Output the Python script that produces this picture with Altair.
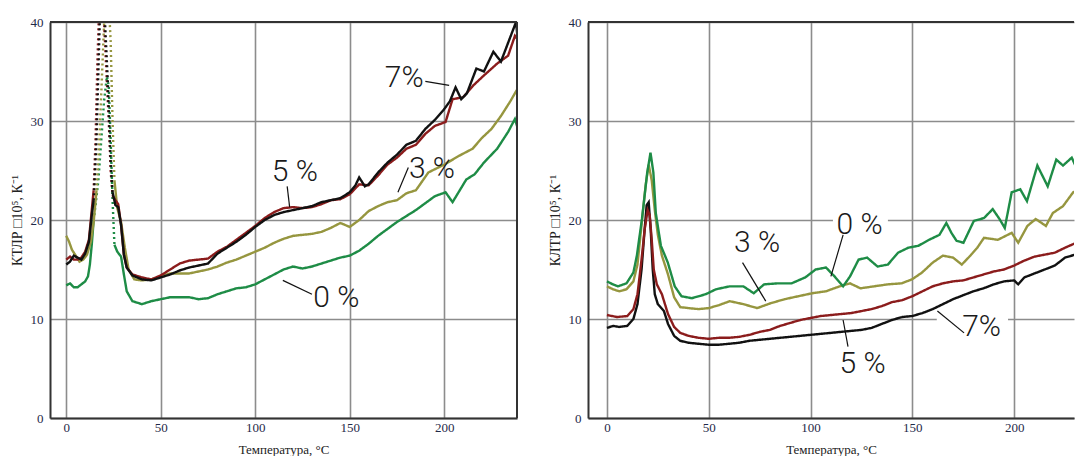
import altair as alt
import pandas as pd

# ---------------- data ----------------
SERIES = ["0 %", "3 %", "5 %", "7%"]
COLORS = {"0 %": "#1e8c46", "3 %": "#96963f", "5 %": "#8b1c1c", "7%": "#111111"}

# Left panel
L0_T = [0, 2, 4, 6, 8, 10, 11.5, 12.5, 13.5, 14.5, 15.5, 17, 18.5, 20, 21.5, 22.5, 23.5, 24.5, 25.5, 27, 29, 30.5, 32, 35, 40, 45, 50, 55, 60, 65, 70, 75, 80, 85, 90, 95, 100, 105, 110, 115, 120, 125, 130, 135, 140, 145, 150, 155, 160, 165, 170, 175, 180, 185, 190, 195, 200.7, 204.4, 211.7, 216, 221, 228, 233.8, 237.4, 239]
L0_V = [13.4, 13.6, 13.2, 13.2, 13.5, 13.8, 14.3, 15.5, 17.5, 20, 21.5, 24, 28, 32, 34.5, 33.5, 28, 22, 17.5, 16.8, 16.3, 14.5, 12.8, 11.8, 11.5, 11.8, 12.0, 12.2, 12.2, 12.2, 12.0, 12.1, 12.5, 12.8, 13.1, 13.2, 13.5, 14.0, 14.5, 15.0, 15.3, 15.1, 15.3, 15.6, 15.9, 16.2, 16.4, 16.9, 17.6, 18.4, 19.1, 19.8, 20.4, 21.0, 21.7, 22.4, 22.8, 21.8, 24.1, 24.6, 25.8, 27.2, 28.9, 30.2, 29.2]

L3_T = [0, 1.5, 3, 5, 7, 9, 11, 13, 14.5, 16, 17.5, 19, 20.5, 22.5, 23.5, 24.5, 25.5, 27, 29, 31, 33, 36, 40, 45, 50, 55, 60, 65, 70, 75, 80, 85, 90, 95, 100, 105, 110, 115, 120, 125, 130, 135, 140, 145, 150, 155, 160, 165, 170, 175, 180, 185, 191.6, 200, 208, 215, 220, 225, 230, 235, 238, 239]
L3_V = [18.4, 17.8, 17.0, 16.4, 15.8, 16.0, 16.5, 17.8, 19.8, 23, 28, 35, 42, 42, 38, 30, 24, 21.2, 19.8, 17.2, 15.0, 14.0, 13.9, 14.0, 14.3, 14.6, 14.6, 14.6, 14.8, 15.0, 15.3, 15.7, 16.0, 16.4, 16.8, 17.2, 17.7, 18.1, 18.4, 18.5, 18.6, 18.8, 19.2, 19.7, 19.3, 20.0, 20.9, 21.4, 21.8, 22.0, 22.7, 23.0, 24.8, 25.6, 26.5, 27.2, 28.3, 29.2, 30.5, 32.0, 33.0, 33.3]

L5_T = [0, 2, 4, 6, 8, 10, 12, 13.5, 14.5, 15.5, 16.5, 17.5, 19.5, 21, 22.5, 23.5, 24.5, 26, 27.5, 29, 30.5, 32, 35, 40, 45, 50, 55, 60, 65, 70, 75, 80, 85, 90, 95, 100, 105, 110, 115, 120, 125, 130, 135, 140, 145, 150, 155, 160, 165, 170, 175, 180, 185, 190, 195, 200.7, 204.4, 210, 215.4, 221, 228, 233.8, 237.4, 239]
L5_V = [16.0, 16.3, 16.0, 16.0, 16.2, 16.8, 18.0, 21, 23, 28, 36, 42, 42, 36, 30, 25, 22.5, 22, 21.6, 19.5, 16.5, 15.2, 14.5, 14.2, 14.0, 14.4, 15.0, 15.6, 15.9, 16.0, 16.1, 16.8, 17.3, 18.0, 18.7, 19.4, 20.2, 20.8, 21.2, 21.3, 21.2, 21.3, 21.6, 22.0, 22.1, 22.6, 23.6, 23.5, 24.5, 25.6, 26.3, 27.2, 27.6, 28.7, 29.5, 29.9, 32.2, 32.4, 33.6, 34.6, 35.8, 36.6, 38.6, 38.2]

L7_T = [0, 2, 4, 6, 8, 10, 12, 13.5, 14.5, 16, 17, 18, 20, 22, 23.5, 24.5, 26, 27.5, 29, 30.5, 32, 35, 40, 45, 50, 55, 60, 65, 70, 75, 80, 85, 90, 95, 100, 105, 110, 115, 120, 125, 130, 135, 140, 145, 150, 153, 155, 158, 160, 165, 170, 175, 180, 185, 190, 195, 200, 203, 206, 209, 212, 217, 221, 226, 230, 233, 236, 238, 239]
L7_V = [15.5, 15.8, 16.4, 16.2, 16.0, 16.6, 17.8, 20.5, 22, 28, 35, 42, 42, 34, 26, 22.8, 21.5, 21.3, 19.5, 16.5, 15.2, 14.4, 14.0, 13.9, 14.2, 14.5, 14.9, 15.2, 15.4, 15.6, 16.6, 17.2, 17.8, 18.5, 19.3, 20.0, 20.5, 20.8, 21.0, 21.2, 21.4, 21.8, 22.0, 22.2, 22.8, 23.5, 24.3, 23.4, 23.6, 24.8, 25.8, 26.6, 27.6, 28.0, 29.2, 30.1, 31.2, 32.0, 33.4, 32.2, 32.8, 35.3, 35.0, 37.0, 36.0, 37.5, 39.0, 40.0, 38.0]

# temperature range drawn dotted (sparse points around the peak)
L_PEAK = {"0 %": (14.5, 25.5), "3 %": (16, 25.5), "5 %": (14.5, 24.5), "7%": (14.5, 24.5)}

# Right panel
R0_T = [0, 2.9, 5.4, 9.6, 13, 14.7, 17.2, 19.8, 21.4, 22.8, 24, 26.5, 29.9, 33.3, 36.6, 41.7, 48.5, 53.5, 60.3, 67, 72.1, 77.2, 83.9, 90.7, 97.4, 102.5, 107.6, 111.8, 116, 119.4, 123.6, 127.8, 132.9, 138, 143, 148, 153, 158.2, 163.3, 166.7, 169.2, 171.7, 175.1, 180.2, 185.2, 189.5, 192.8, 195.4, 198.8, 203, 206.3, 211.4, 216.5, 220.7, 224, 228.3, 231.6]
R0_V = [13.8, 13.5, 13.3, 13.6, 14.7, 16.4, 20.1, 24.8, 26.8, 24.8, 20.7, 17.4, 15.7, 13.3, 12.3, 12.1, 12.5, 13.0, 13.3, 13.3, 12.6, 13.5, 13.6, 13.6, 14.2, 15.0, 15.2, 14.3, 13.3, 14.3, 16.0, 16.2, 15.3, 15.5, 16.7, 17.2, 17.4, 18.0, 18.5, 19.7, 18.7, 17.9, 17.7, 19.9, 20.2, 21.1, 20.1, 19.2, 22.8, 23.1, 21.9, 25.5, 23.4, 26.1, 25.5, 26.3, 24.8]

R3_T = [0, 3, 6, 9.6, 13, 15, 17, 19, 20.5, 22, 23.5, 25, 27, 30, 33, 36, 40, 45, 50, 55, 60.3, 67, 73.8, 80.5, 87.3, 94, 100.8, 107.6, 114.3, 119.4, 124.5, 131.2, 138, 144.7, 149.8, 154.8, 160, 165, 170, 174.3, 178.5, 181.9, 185.2, 192, 198.8, 202, 206.5, 210.6, 215.6, 219, 224, 229, 231.6]
R3_V = [13.3, 13.0, 12.8, 13.0, 13.8, 15.5, 19.5, 23.5, 25.6, 24, 21, 18.5, 16.4, 14.5, 12.2, 11.2, 11.1, 11.0, 11.1, 11.4, 11.8, 11.5, 11.1, 11.6, 12.0, 12.3, 12.6, 12.8, 13.3, 13.6, 13.1, 13.3, 13.5, 13.6, 14.0, 14.7, 15.7, 16.4, 16.2, 15.5, 16.4, 17.2, 18.2, 18.0, 18.7, 17.7, 19.4, 20.1, 19.4, 20.7, 21.4, 22.8, 23.0]

R5_T = [0, 5, 10, 13, 15, 17, 18.5, 20, 21, 22, 23, 24.5, 27, 30, 33, 36, 40, 45, 50, 55, 60, 65, 70, 75, 80, 85, 90, 95, 100, 105, 110, 115, 120, 125, 130, 135, 140, 145, 150, 155, 160, 165, 170, 175, 180, 185, 190, 195, 200, 205, 210, 215, 220, 225, 231.6]
R5_V = [10.4, 10.2, 10.3, 11.0, 12.5, 16, 19, 21, 20.5, 18, 15, 13.5, 12.5, 10.5, 9.2, 8.6, 8.3, 8.1, 8.0, 8.1, 8.1, 8.2, 8.4, 8.7, 8.9, 9.3, 9.6, 9.9, 10.1, 10.3, 10.4, 10.5, 10.6, 10.8, 11.0, 11.3, 11.7, 11.9, 12.3, 12.8, 13.3, 13.6, 13.8, 13.9, 14.2, 14.5, 14.8, 15.0, 15.4, 15.9, 16.3, 16.5, 16.7, 17.2, 17.8]

R7_T = [0, 3, 6, 10, 13, 15, 17, 18.5, 19.5, 20.5, 21.5, 22.5, 23.5, 25, 28, 30, 33, 36, 40, 45, 50, 55, 60, 65, 70, 75, 80, 85, 90, 95, 100, 105, 110, 115, 120, 125, 130, 135, 140, 145, 150, 155, 160, 165, 170, 175, 180, 185, 190, 195, 200, 202, 205, 210, 215, 220, 225, 231.6]
R7_V = [9.1, 9.3, 9.2, 9.3, 10.0, 11.5, 15, 19, 21.5, 21.8, 19, 15, 12.5, 11.5, 10.8, 9.5, 8.3, 7.8, 7.6, 7.5, 7.4, 7.4, 7.5, 7.6, 7.8, 7.9, 8.0, 8.1, 8.2, 8.3, 8.4, 8.5, 8.6, 8.7, 8.8, 8.9, 9.1, 9.5, 9.9, 10.2, 10.3, 10.6, 11.0, 11.5, 12.0, 12.4, 12.8, 13.1, 13.5, 13.8, 13.9, 13.5, 14.2, 14.6, 15.0, 15.4, 16.2, 16.6]

# Curve labels: text, temperature, value; leader line ends
L_LABELS = ["7%", "5 %", "3 %", "0 %"]
L_LABEL_T = [178.8, 120.9, 193.5, 142.9]
L_LABEL_V = [34.3, 24.8, 25.2, 12.1]
L_LEAD_T1 = [190, 116.9, 181, 130]
L_LEAD_V1 = [34.0, 23.4, 25.3, 12.5]
L_LEAD_T2 = [202.6, 118.2, 175.5, 114.6]
L_LEAD_V2 = [33.6, 21.3, 22.8, 13.9]

R_LABELS = ["0 %", "3 %", "5 %", "7%"]
R_LABEL_T = [124.1, 73.7, 125.6, 184]
R_LABEL_V = [19.5, 17.7, 5.5, 9.2]
R_LEAD_T1 = [116, 66.6, 118.4, 175.4]
R_LEAD_V1 = [18.5, 15.7, 7.2, 8.6]
R_LEAD_T2 = [110, 78, 116, 162.3]
R_LEAD_V2 = [14.3, 11.8, 9.9, 10.8]

X_TICKS = [0, 50, 100, 150, 200]
Y_TICKS = [0, 10, 20, 30, 40]

# ---------------- styling ----------------
H = 396
LW, RW = 467, 486
L_XDOM = [-8.6, 238.5]
R_XDOM = [-9.3, 229.4]
SERIF = "Liberation Serif"
NARROW = "Roboto, Liberation Sans Narrow, DejaVu Sans Condensed, sans-serif"
FRAME = "#333333"
GRID = "#8c8c8c"


def series_df(t, v, peak):
    rows = []
    for ti, vi in zip(t, v):
        if peak is None:
            rows.append((ti, vi, "a", "solid"))
            continue
        a, b = peak
        if ti <= a:
            rows.append((ti, vi, "a", "solid"))
        if a <= ti <= b:
            rows.append((ti, vi, "p", "dot"))
        if ti >= b:
            rows.append((ti, vi, "b", "solid"))
    return pd.DataFrame(rows, columns=["T", "V", "seg", "style"])


def panel(series, peaks, labels, width, xdom, ytitle, blanks):
    xs = alt.Scale(domain=xdom, nice=False, zero=False)
    ys = alt.Scale(domain=[0, 40], nice=False)
    xaxis = alt.Axis(values=X_TICKS, title="Температура, °С", grid=True, gridColor=GRID,
                     gridWidth=1.6, ticks=False, domainColor=FRAME, domainWidth=2,
                     labelFont=SERIF, labelFontSize=13, labelColor="#1f2a48",
                     labelPadding=3, labelFlush=False, titleFont=SERIF, titleFontSize=13,
                     titleFontWeight="normal", titleColor="#222222", titlePadding=9)
    yaxis = alt.Axis(values=Y_TICKS, title=ytitle, grid=True, gridColor=GRID,
                     gridWidth=1.6, ticks=False, domainColor=FRAME, domainWidth=2,
                     labelFont=SERIF, labelFontSize=13, labelColor="#1f2a48",
                     labelPadding=7, labelFlush=False, titleFont=SERIF, titleFontSize=14,
                     titleFontWeight="normal", titleColor="#222222", titlePadding=6)
    layers = []
    # white patches behind labels (break the grid like the original)
    if blanks:
        bdf = pd.DataFrame(blanks, columns=["t1", "t2", "v1", "v2"])
        layers.append(alt.Chart(bdf).mark_rect(color="white").encode(
            x=alt.X("t1:Q", scale=xs, axis=xaxis), x2="t2:Q",
            y=alt.Y("v1:Q", scale=ys, axis=yaxis), y2="v2:Q"))
    for name, t, v in series:
        df = series_df(t, v, peaks.get(name))
        layers.append(alt.Chart(df).mark_line(clip=True, strokeWidth=2.4,
                                              color=COLORS[name]).encode(
            x=alt.X("T:Q", scale=xs, axis=xaxis),
            y=alt.Y("V:Q", scale=ys, axis=yaxis),
            detail="seg:N",
            strokeDash=alt.StrokeDash("style:N", scale=alt.Scale(
                domain=["solid", "dot"], range=[[1, 0], [2, 3]]), legend=None),
            order="T:Q"))
    lab, lt, lv, t1, v1, t2, v2 = labels
    ldf = pd.DataFrame({"lab": lab, "t": lt, "v": lv, "t1": t1, "v1": v1, "t2": t2, "v2": v2})
    layers.append(alt.Chart(ldf).mark_rule(color="#111111", strokeWidth=1.2).encode(
        x=alt.X("t1:Q", scale=xs, axis=xaxis), x2="t2:Q",
        y=alt.Y("v1:Q", scale=ys, axis=yaxis), y2="v2:Q"))
    layers.append(alt.Chart(ldf).mark_text(font=NARROW, fontSize=30, fontWeight=300,
                                           color="#1a1a1a", align="center",
                                           baseline="middle").encode(
        x=alt.X("t:Q", scale=xs, axis=xaxis), y=alt.Y("v:Q", scale=ys, axis=yaxis),
        text="lab:N"))
    frame = pd.DataFrame({"k": [0]})
    layers.append(alt.Chart(frame).mark_rule(color=FRAME, strokeWidth=2).encode(
        x=alt.value(0), x2=alt.value(width), y=alt.value(0)))
    return alt.layer(*layers).properties(width=width, height=H)


left = panel([("0 %", L0_T, L0_V), ("3 %", L3_T, L3_V), ("5 %", L5_T, L5_V), ("7%", L7_T, L7_V)],
             L_PEAK,
             (L_LABELS, L_LABEL_T, L_LABEL_V, L_LEAD_T1, L_LEAD_V1, L_LEAD_T2, L_LEAD_V2),
             LW, L_XDOM, "КТЛР □10⁵, К⁻¹", [])
right_border = alt.Chart(pd.DataFrame({"k": [0]})).mark_rule(color=FRAME, strokeWidth=2).encode(
    x=alt.value(LW), y=alt.value(0), y2=alt.value(H))
left = alt.layer(left, right_border)

right = panel([("7%", R7_T, R7_V), ("5 %", R5_T, R5_V), ("3 %", R3_T, R3_V), ("0 %", R0_T, R0_V)],
              {},
              (R_LABELS, R_LABEL_T, R_LABEL_V, R_LEAD_T1, R_LEAD_V1, R_LEAD_T2, R_LEAD_V2),
              RW, R_XDOM, "КЛТР □10⁵, К⁻¹",
              [(111, 138, 18.6, 21.2), (162, 197, 8.4, 10.8)])

chart = alt.hconcat(left, right, spacing=30).properties(
    padding={"left": 2, "top": 8, "right": 0, "bottom": 0},
    background="white",
).configure_view(stroke=None)

chart.save("out.html", embed_options={"renderer": "svg", "actions": False})
